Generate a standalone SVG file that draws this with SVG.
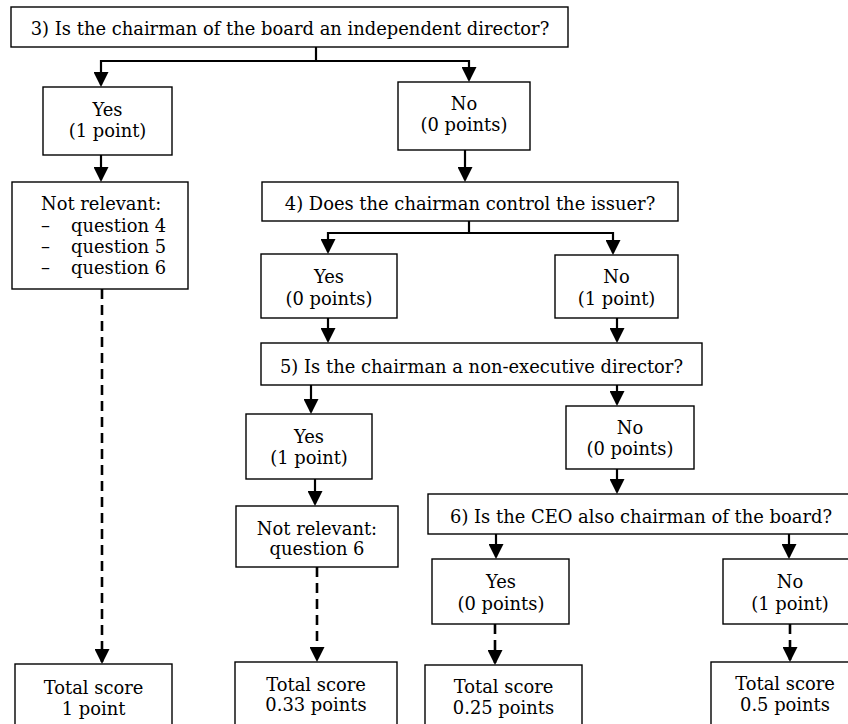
<svg xmlns="http://www.w3.org/2000/svg" width="848" height="724" viewBox="0 0 848 724">
<style>
.box{fill:#fff;stroke:#000;stroke-width:1.4}
.t{font-family:"DejaVu Serif","Liberation Serif",serif;font-size:17.9px;fill:#000;text-anchor:middle}
.tl{font-family:"DejaVu Serif","Liberation Serif",serif;font-size:17.9px;fill:#000}
.c{fill:none;stroke:#000;stroke-width:2.2;marker-end:url(#ah)}
.s{fill:none;stroke:#000;stroke-width:2.2}
.d{fill:none;stroke:#000;stroke-width:2.6;stroke-dasharray:10 6;marker-end:url(#ah)}
</style>
<defs>
<marker id="ah" viewBox="0 0 10 10" refX="8.6" refY="5" markerUnits="userSpaceOnUse" markerWidth="16" markerHeight="15" orient="auto">
<path d="M0,0 L10,5 L0,10 z" fill="#000"/>
</marker>
</defs>
<rect width="848" height="724" fill="#fff"/>
<g id="connectors">
<path class="s" d="M316,47 V61"/>
<path class="c" d="M316,61 H101 V85"/>
<path class="c" d="M316,61 H469 V80"/>
<path class="c" d="M101,155 V180"/>
<path class="d" d="M102,289 V662"/>
<path class="c" d="M465,150 V180"/>
<path class="s" d="M469,221 V233"/>
<path class="c" d="M469,233 H328 V252"/>
<path class="c" d="M469,233 H613 V253"/>
<path class="c" d="M328,318 V341"/>
<path class="c" d="M617,318 V341"/>
<path class="c" d="M311,385 V412"/>
<path class="c" d="M617,385 V404"/>
<path class="c" d="M315,479 V504"/>
<path class="d" d="M317,567 V660"/>
<path class="c" d="M617,469 V492"/>
<path class="c" d="M496,534 V557"/>
<path class="c" d="M789,534 V557"/>
<path class="d" d="M495,624 V663"/>
<path class="d" d="M790,624 V660"/>
</g>
<g id="q3"><rect class="box" x="11" y="7" width="557" height="40"/><text class="t" x="290" y="35">3) Is the chairman of the board an independent director?</text></g>
<g id="q3yes"><rect class="box" x="43" y="87" width="129" height="68"/><text class="t" x="107.5" y="116">Yes</text><text class="t" x="107.5" y="137">(1 point)</text></g>
<g id="q3no"><rect class="box" x="398" y="82" width="132" height="68"/><text class="t" x="464" y="110">No</text><text class="t" x="464" y="131">(0 points)</text></g>
<g id="nr3"><rect class="box" x="12" y="182" width="176" height="107"/>
<text class="tl" x="41" y="210">Not relevant:</text>
<text class="tl" x="41" y="232">–</text><text class="tl" x="71" y="232">question 4</text>
<text class="tl" x="41" y="253">–</text><text class="tl" x="71" y="253">question 5</text>
<text class="tl" x="41" y="274">–</text><text class="tl" x="71" y="274">question 6</text></g>
<g id="total1"><rect class="box" x="15" y="664" width="157" height="80"/><text class="t" x="93.5" y="694">Total score</text><text class="t" x="93.5" y="715">1 point</text></g>
<g id="q4"><rect class="box" x="262" y="182" width="416" height="39"/><text class="t" x="470" y="210">4) Does the chairman control the issuer?</text></g>
<g id="q4yes"><rect class="box" x="261" y="254" width="136" height="64"/><text class="t" x="329" y="283">Yes</text><text class="t" x="329" y="305">(0 points)</text></g>
<g id="q4no"><rect class="box" x="555" y="255" width="123" height="63"/><text class="t" x="616.5" y="283">No</text><text class="t" x="616.5" y="305">(1 point)</text></g>
<g id="q5"><rect class="box" x="261" y="343" width="441" height="42"/><text class="t" x="481.5" y="373">5) Is the chairman a non-executive director?</text></g>
<g id="q5yes"><rect class="box" x="246" y="414" width="126" height="65"/><text class="t" x="309" y="443">Yes</text><text class="t" x="309" y="464">(1 point)</text></g>
<g id="nr5"><rect class="box" x="236" y="506" width="162" height="61"/><text class="t" x="317" y="535">Not relevant:</text><text class="t" x="317" y="555">question 6</text></g>
<g id="total033"><rect class="box" x="235" y="662" width="162" height="80"/><text class="t" x="316" y="691">Total score</text><text class="t" x="316" y="711">0.33 points</text></g>
<g id="q5no"><rect class="box" x="566" y="406" width="128" height="63"/><text class="t" x="630" y="434">No</text><text class="t" x="630" y="455">(0 points)</text></g>
<g id="q6"><rect class="box" x="428" y="494" width="426" height="40"/><text class="t" x="641" y="523">6) Is the CEO also chairman of the board?</text></g>
<g id="q6yes"><rect class="box" x="432" y="559" width="137" height="65"/><text class="t" x="501" y="588">Yes</text><text class="t" x="501" y="610">(0 points)</text></g>
<g id="q6no"><rect class="box" x="723" y="559" width="134" height="65"/><text class="t" x="790" y="588">No</text><text class="t" x="790" y="610">(1 point)</text></g>
<g id="total025"><rect class="box" x="425" y="665" width="157" height="80"/><text class="t" x="503.5" y="693">Total score</text><text class="t" x="503.5" y="714">0.25 points</text></g>
<g id="total05"><rect class="box" x="711" y="662" width="148" height="80"/><text class="t" x="785" y="690">Total score</text><text class="t" x="785" y="711">0.5 points</text></g>
</svg>
